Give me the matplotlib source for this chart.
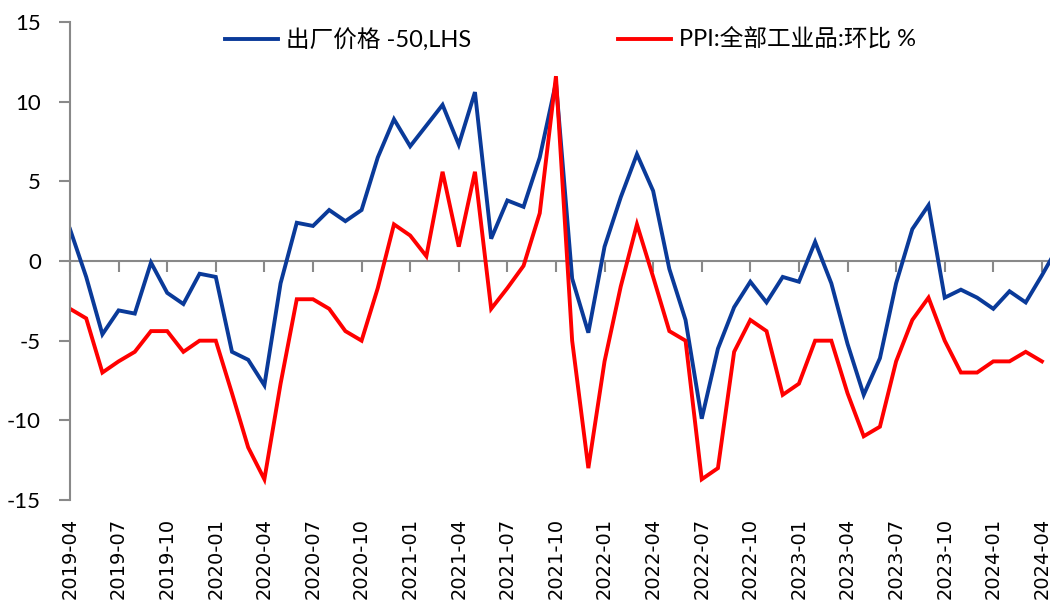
import matplotlib
matplotlib.use("Agg")
import matplotlib.pyplot as plt
import numpy as np

# meses 2019-04 .. 2024-05
meses = []
for k in range(62):
     a = 2019 + (3 + k) // 12
     m = (3 + k) % 12 + 1
     meses.append(f"{a}-{m:02d}")

azul = [2.0, -1.0, -4.6, -3.1, -3.3, -0.1, -2.0, -2.7, -0.8, -1.0,
        -5.7, -6.2, -7.8, -1.4, 2.4, 2.2, 3.2, 2.5, 3.2, 6.5,
        8.9, 7.2, 8.5, 9.8, 7.3, 10.6, 1.4, 3.8, 3.4, 6.5,
        11.2, -1.1, -4.5, 0.9, 4.0, 6.7, 4.4, -0.5, -3.7, -9.9,
        -5.5, -2.9, -1.3, -2.6, -1.0, -1.3, 1.2, -1.4, -5.2, -8.4,
        -6.1, -1.4, 2.0, 3.5, -2.3, -1.8, -2.3, -3.0, -1.9, -2.6,
        -0.9, 0.9]
rojo = [-3.0, -3.6, -7.0, -6.3, -5.7, -4.4, -4.4, -5.7, -5.0, -5.0,
        -8.3, -11.7, -13.7, -7.7, -2.4, -2.4, -3.0, -4.4, -5.0, -1.7,
        2.3, 1.6, 0.3, 5.6, 0.9, 5.6, -3.0, -1.7, -0.3, 3.0,
        11.6, -5.0, -13.0, -6.3, -1.6, 2.3, -1.0, -4.4, -5.0, -13.7,
        -13.0, -5.7, -3.7, -4.4, -8.4, -7.7, -5.0, -5.0, -8.3, -11.0,
        -10.4, -6.3, -3.7, -2.3, -5.0, -7.0, -7.0, -6.3, -6.3, -5.7,
        -6.3]
lbl_azul = "出厂价格 -50,LHS"
lbl_rojo = "PPI:全部工业品:环比 %"

gris = "#898989"
fam = ["Lato", "Noto Sans CJK SC", "DejaVu Sans"]
plt.rcParams['font.family'] = fam
plt.rcParams['axes.unicode_minus'] = False

fig = plt.figure(figsize=(10.5, 6.11), dpi=100)
ax = fig.add_axes([70/1050, 111/611, 980/1050, 478/611])

x_az = np.arange(len(azul))
x_ro = np.arange(len(rojo))
ax.plot(x_az, azul, color="#0a3a99", lw=2.8, label=lbl_azul, solid_joinstyle="miter")
ax.plot(x_ro, rojo, color="#ff0000", lw=2.8, label=lbl_rojo, solid_joinstyle="miter")

ax.set_xlim(0, 60.5)
ax.set_ylim(-15, 15)
ax.set_yticks(np.arange(-15, 16, 5))
ax.tick_params(axis="y", direction="out", length=8, width=1.5, color=gris,
               labelsize=16, pad=13)

for s in ["top", "right"]:
     ax.spines[s].set_visible(False)
ax.spines["left"].set_color(gris)
ax.spines["left"].set_linewidth(1.5)
ax.spines["bottom"].set_position(("data", 0))
ax.spines["bottom"].set_color(gris)
ax.spines["bottom"].set_linewidth(1.5)
ax.spines["bottom"].set_zorder(1)

pos = np.arange(0, 61, 3)
ax.set_xticks(pos)
ax.set_xticklabels([])
ax.tick_params(axis="x", direction="out", length=8, width=1.5, color=gris)

sec = ax.secondary_xaxis(0)
sec.set_xticks(pos)
sec.set_xticklabels([meses[p] for p in pos], rotation=90, fontsize=14,
                    family="DejaVu Sans")
sec.tick_params(axis="x", length=0, pad=13)
sec.spines["bottom"].set_visible(False)

ax.legend(loc="upper center", bbox_to_anchor=(0.511, 1.012), ncol=2,
          frameon=False, fontsize=17, handlelength=2.25, handletextpad=0.34,
          columnspacing=6.2, borderpad=0)

fig.savefig("out.png", dpi=100)
